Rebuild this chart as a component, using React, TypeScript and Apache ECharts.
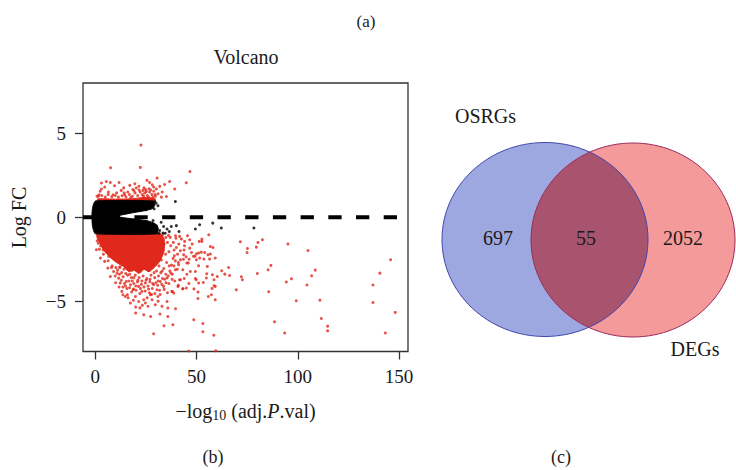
import React, { useEffect, useRef } from "react";
import * as echarts from "echarts";

// ---------- data ----------
const xTicks = [0, 50, 100, 150];
const yTicks = [-5, 0, 5];
const vennSets = ["OSRGs", "DEGs"];
const vennCounts = [697, 55, 2052]; // OSRGs only, both, DEGs only

// outlines of the saturated point clouds (data coordinates)
const blackCore: [number, number][] = [
  [-1.7, 0.05], [-1.5, 0.45], [-1.0, 0.75], [0, 0.97], [28.5, 0.97], [29.5, 0.75],
  [28, 0.5], [23, 0.36], [18, 0.26], [13.5, 0.15], [10.7, 0.07], [12.5, 0.0],
  [16, -0.06], [21, -0.13], [26, -0.22], [29.5, -0.38], [31, -0.62], [30.5, -0.99],
  [0, -0.99], [-1.0, -0.75], [-1.5, -0.45],
];
const redUpperCore: [number, number][] = [
  [1, 0.96], [29.5, 0.96], [29.5, 1.12], [24, 1.18], [18, 1.1], [10, 1.08], [4, 1.1], [1.2, 1.1],
];
const redLowerCore: [number, number][] = [
  [0.8, -0.98], [32, -0.98], [34, -1.3], [34, -2.0], [32, -2.6], [29, -3.0], [26.5, -3.25],
  [24, -3.1], [21.5, -3.35], [19, -3.15], [16.5, -3.25], [14, -2.95], [10.5, -2.7],
  [7, -2.35], [4, -1.95], [2, -1.5], [0.8, -1.2],
];

// individual significant genes (red)
const redPoints: [number, number][] = [
  // up-regulated, sparse
  [22.5, 4.3], [7.5, 2.95], [22.2, 2.97], [46.7, 2.72], [44.9, 2.06], [30.5, 2.34],
  [36.7, 2.13], [39.2, 1.68], [35.1, 1.24], [32.6, 1.2], [31.8, 1.84], [34.2, 1.95],
  [26.8, 2.07], [28.1, 1.94], [3, 2.04], [5.4, 2.13], [7.4, 2.07], [11.7, 2.07],
  [3, 1.68], [4.6, 1.8], [9.5, 1.88], [12.8, 1.6], [20.2, 1.74], [23.5, 1.6],
  [25.2, 1.54], [28.8, 1.8], [30.1, 1.68], [1.8, 1.34], [8.7, 1.34], [14.5, 1.34],
  [2.4, 1.55], [6.5, 1.5], [10.5, 1.45], [16, 1.5], [18.5, 1.65], [21.5, 1.85],
  [24, 1.75], [26.5, 1.7], [29.5, 1.35], [31, 1.4], [33, 1.5], [17, 1.9],
  [19.5, 2.0], [25.5, 2.2], [14, 1.75], [0.8, 1.25],
  // up-regulated band just above the core
  [1.5, 1.25], [3.2, 1.3], [4.9, 1.2], [6.3, 1.35], [8.1, 1.22], [9.8, 1.3],
  [11.4, 1.2], [13.2, 1.28], [15.1, 1.22], [16.8, 1.35], [18.3, 1.25], [19.6, 1.45],
  [20.9, 1.3], [22.1, 1.5], [23.2, 1.35], [24.4, 1.45], [25.6, 1.3], [26.8, 1.5],
  [27.9, 1.35], [28.8, 1.55], [29.7, 1.25], [21.6, 1.62], [24.8, 1.65], [27.3, 1.62],
  [19.1, 1.58], [23.8, 1.25], [26.3, 1.2], [28.4, 1.2], [17.5, 1.18], [14.2, 1.45],
  // down-regulated, dense band around the core
  [31.5, -1.1], [33.2, -1.05], [34.8, -1.2], [36.1, -1.08], [32.4, -1.45], [34, -1.6],
  [35.6, -1.5], [37.2, -1.7], [33.1, -1.95], [31.2, -2.1], [34.7, -2.2], [36.3, -2.05],
  [38.4, -2.45], [30.1, -2.4], [32.6, -2.55], [35.2, -2.7], [37.6, -2.85], [29.3, -2.7],
  [31.4, -2.9], [33.8, -3.05], [27.2, -2.65], [25.1, -2.8], [23.3, -2.75], [21.2, -2.85],
  [19.4, -2.7], [17.1, -2.8], [15.2, -2.7], [13.3, -2.6], [11.2, -2.65], [9.4, -2.45],
  [7.6, -2.35], [5.5, -2.0], [3.8, -1.95], [2.6, -1.7], [1.4, -1.55], [0.9, -1.4],
  [8.3, -2.9], [10.1, -3.0], [12.2, -2.95], [14.1, -3.1], [16.3, -3.0], [18.2, -3.15],
  [20.3, -3.05], [22.4, -3.2], [24.2, -3.05], [26.1, -3.15], [28.2, -3.0], [30.2, -3.2],
  [32.3, -3.3], [34.8, -3.4], [9.8, -3.5], [11.9, -3.4], [13.7, -3.55], [15.9, -3.45],
  [17.8, -3.6], [19.7, -3.45], [21.6, -3.6], [23.6, -3.5], [25.4, -3.65], [27.5, -3.45],
  [29.3, -3.6], [31.2, -3.5], [33.1, -3.65], [14.4, -3.95], [16.6, -3.8], [19, -3.95],
  [20.8, -3.85], [22.7, -4.0], [26.9, -3.85], [28.3, -3.95], [30.8, -4.05], [34.9, -3.9],
  [15.6, -4.25], [17.9, -4.45], [20.1, -4.35], [22.3, -4.25], [24.6, -4.4], [26.7, -4.5],
  [28.1, -4.25], [29.4, -4.55], [31.7, -4.35], [35.6, -4.5],
  [11, -3.15], [13, -3.3], [15, -3.35], [17, -3.4], [19, -3.6], [21, -3.75],
  [23, -3.8], [25, -3.75], [27, -3.7], [29, -3.3], [31, -3.8], [33, -3.2],
  [12.8, -3.75], [14.9, -4.1], [16.9, -4.2], [18.2, -3.8], [20, -4.1], [22, -4.55],
  [24, -4.15], [26, -4.1], [27.8, -4.6], [29.9, -3.9], [32.8, -4.0], [34.2, -3.7],
  [36.3, -3.95], [37.9, -3.7], [39.2, -3.8], [16.2, -4.8], [18.8, -4.95], [25.6, -4.8],
  [31, -5.0], [23.2, -5.25], [12, -3.0], [36.8, -3.2], [38.8, -2.9], [39.5, -2.6],
  [40.6, -2.2], [38.9, -1.95], [41.2, -1.6], [39.8, -1.25], [43.8, -1.95], [44.8, -2.35],
  [46.3, -2.5], [45.2, -3.4], [43.9, -3.65], [46.2, -3.95],
  // down-regulated, near the core
  [0.5, -1.94], [2.5, -2.43], [4.6, -2.63], [6.6, -2.33], [6.2, -3.03], [6.3, -2.59],
  [7.4, -3.53], [9, -3.23], [10.7, -3.33], [11.5, -3.63], [12.3, -3.92], [13.6, -4.16],
  [15.3, -3.83], [17.3, -4.02], [18.9, -4.28], [21.4, -4.12], [23, -4.42], [24.7, -3.92],
  [26.3, -4.28], [28.8, -4.02], [30.4, -4.32], [32.1, -3.83], [33.7, -4.12], [35.4, -3.62],
  [37.3, -3.33], [39.5, -3.13], [41.1, -2.83], [42, -2.53], [43.6, -2.23], [45.2, -2.73],
  [46.9, -3.23], [48.5, -2.33], [51, -3.92], [19.8, -4.72], [21.4, -5.02], [17.3, -5.11],
  [24.7, -5.11], [28, -4.92], [29.6, -5.21], [32.9, -5.31], [14.8, -4.72], [13.1, -4.42],
  [11.7, -4.16], [13.6, -4.62], [15.8, -4.62], [18.6, -4.32], [23.9, -4.92], [27.2, -4.62],
  [30.9, -4.72], [38.7, -4.52], [43.3, -4.26], [37.8, -4.42], [42, -3.72], [37, -1.2],
  [38.5, -1.5], [40, -1.8], [42, -2.0], [39, -2.3], [43.5, -2.5], [41, -2.7],
  [36.5, -2.9], [44, -1.7], [47.5, -2.1], [38, -3.4], [40.5, -3.1], [42.5, -1.3],
  [45.5, -1.1], [47.8, -1.6], [36, -3.5], [34, -4.3], [32, -4.6], [26, -5.3],
  [22, -5.4], [10, -3.9], [8, -3.0], [4, -2.2], [2, -1.9],
  // down-regulated, sparse
  [28.8, -6.94], [19.9, -5.35], [19.9, -5.71], [23.9, -5.81], [27.3, -5.91], [31.9, -5.77],
  [33.9, -6.47], [35.8, -5.91], [35.8, -5.41], [38.3, -6.41], [39.6, -5.45], [35.4, -5.02],
  [38, -4.42], [41.6, -3.72], [43.2, -3.13], [40.8, -4.12], [44.9, -4.22], [45.9, -2.73],
  [49.2, -2.33], [46.6, -1.84], [44.1, -1.44], [46.6, -1.34], [41.6, -1.14], [39.6, -1.1],
  [41, -4.06], [43.1, -4.26], [46.1, -7.97], [59.5, -7.96], [48.6, -6.11], [53.1, -6.33],
  [53.1, -6.82], [58.5, -7.03], [48.7, -4.27], [50.7, -4.84], [50.7, -4.46], [49.8, -3.72],
  [49.4, -3.23], [49.4, -3.65], [51, -2.89], [49.9, -2.53], [49.9, -2.18], [51, -2.13],
  [52.3, -2.08], [54, -2.1], [55.6, -2.24], [56.8, -2.19], [51.5, -2.43], [53.6, -2.49],
  [56.4, -2.49], [59.2, -2.43], [55.3, -2.93], [55, -3.37], [57.8, -3.43], [60.2, -3.53],
  [54.8, -3.62], [53.3, -3.89], [58.6, -3.72], [58.6, -4.08], [57.6, -4.24], [59.2, -4.12],
  [55.8, -4.72], [57.3, -4.62], [59.2, -4.92], [56, -1.04], [52.6, -1.3], [52.6, -1.44],
  [51.3, -1.44], [56.8, -1.74], [58.1, -1.8], [62.4, -3.19], [65.8, -2.99], [63.9, -3.39],
  [66.3, -3.47], [71.6, -1.46], [75.1, -1.86], [74.9, -2.1], [80.3, -1.5], [79.5, -1.78],
  [82.5, -1.34], [86.7, -2.87], [85.3, -3.13], [80, -3.35], [72.1, -3.55], [72.6, -3.72],
  [69.6, -4.32], [85.6, -4.44], [88.5, -6.23], [93.5, -6.9], [95.1, -1.6], [96.8, -3.67],
  [94.3, -3.86], [99.2, -4.98], [105, -1.98], [108.6, -3.15], [106.8, -3.49], [104.5, -4.04],
  [110.9, -4.94], [111.6, -6.03], [114.7, -6.49], [114.7, -6.77], [145.8, -2.53], [140.5, -3.33],
  [137.1, -4.04], [137.1, -5.08], [148.1, -5.67], [143.2, -6.9],
];

// individual non-significant genes (black) outside the saturated core
const blackPoints: [number, number][] = [
  [39.5, 0.94], [29.3, 0.94], [30.9, 0.69], [27.7, 0.65], [26, -0.35], [30.1, -0.51],
  [33.7, -0.55], [35.4, -0.7], [40, -0.5], [41.3, -0.85], [33.4, -0.94], [31.8, -0.79],
  [49.4, -0.7], [51.5, -0.45], [58, -0.35], [62.2, -0.64], [78.3, -0.64], [32.5, -0.3],
  [34.5, -0.95], [36.5, -0.85], [37.5, -0.55], [29, 0.5], [30, 0.85], [28.5, -0.2],
  [31.5, -0.95], [25, 0.45],
];

// ---------- style / layout ----------
const FONT = "Liberation Serif, serif";
const TXT = "#1a1a1a";
const RED = "#e0281c";
const X_MIN = -6.1;
const X_MAX = 154.4;
const Y_MIN = -8;
const Y_MAX = 8;

const VENN_L = { cx: 545, cy: 239.5, rx: 103, ry: 97 };
const VENN_R = { cx: 633, cy: 240, rx: 102, ry: 97 };

function inside(e: typeof VENN_L, x: number, y: number) {
  const dx = (x - e.cx) / e.rx;
  const dy = (y - e.cy) / e.ry;
  return dx * dx + dy * dy <= 1;
}

function lensPoints(): number[][] {
  const pts: number[][] = [];
  const N = 720;
  for (let i = 0; i <= N; i++) {
    const t = -Math.PI + (2 * Math.PI * i) / N;
    const x = VENN_L.cx + VENN_L.rx * Math.cos(t);
    const y = VENN_L.cy + VENN_L.ry * Math.sin(t);
    if (inside(VENN_R, x, y)) pts.push([x, y]);
  }
  for (let i = 0; i <= N; i++) {
    const t = (2 * Math.PI * i) / N;
    const x = VENN_R.cx + VENN_R.rx * Math.cos(t);
    const y = VENN_R.cy + VENN_R.ry * Math.sin(t);
    if (inside(VENN_L, x, y)) pts.push([x, y]);
  }
  return pts;
}

function polySeries(points: [number, number][], color: string, z: number) {
  return {
    type: "custom",
    coordinateSystem: "cartesian2d",
    data: [points[0]],
    silent: true,
    clip: true,
    z,
    renderItem: (_params: any, api: any) => ({
      type: "polygon",
      shape: { points: points.map((p) => api.coord(p)), smooth: 0.15 },
      style: { fill: color, stroke: color, lineWidth: 1 },
    }),
  };
}

const textStyle = (size: number) => ({ fontSize: size, fontFamily: FONT, fill: TXT });

export default function App() {
  const ref = useRef<HTMLDivElement>(null);

  useEffect(() => {
    if (!ref.current) return;
    const chart = echarts.init(ref.current, undefined, { renderer: "svg" });
    const minus = (v: number) => (v < 0 ? "\u2212" + Math.abs(v) : String(v));

    const option: any = {
      animation: false,
      backgroundColor: "#ffffff",
      textStyle: { fontFamily: FONT },
      grid: {
        left: 83,
        top: 83,
        width: 325,
        height: 268.5,
        show: true,
        borderColor: "#333",
        borderWidth: 1.3,
        backgroundColor: "transparent",
      },
      xAxis: {
        type: "value",
        min: X_MIN,
        max: X_MAX,
        axisLine: { show: false, onZero: false },
        splitLine: { show: false },
        axisTick: { show: true, customValues: xTicks, length: 8, lineStyle: { color: "#333", width: 1.3 } },
        axisLabel: { customValues: xTicks, margin: 15, fontSize: 19, fontFamily: FONT, color: TXT },
      },
      yAxis: {
        type: "value",
        min: Y_MIN,
        max: Y_MAX,
        axisLine: { show: false, onZero: false },
        splitLine: { show: false },
        axisTick: { show: true, customValues: yTicks, length: 8, lineStyle: { color: "#333", width: 1.3 } },
        axisLabel: {
          customValues: yTicks,
          margin: 17,
          fontSize: 19,
          fontFamily: FONT,
          color: TXT,
          formatter: minus,
        },
      },
      series: [
        polySeries(redUpperCore, RED, 1),
        polySeries(redLowerCore, RED, 1),
        {
          type: "scatter",
          data: redPoints,
          symbol: "circle",
          symbolSize: 3,
          itemStyle: { color: RED },
          silent: true,
          z: 2,
        },
        polySeries(blackCore, "#000", 3),
        {
          type: "scatter",
          data: blackPoints,
          symbol: "circle",
          symbolSize: 3,
          itemStyle: { color: "#000" },
          silent: true,
          z: 4,
        },
        {
          type: "line",
          data: [[X_MIN, 0], [X_MAX, 0]],
          symbol: "none",
          silent: true,
          z: 5,
          lineStyle: { color: "#000", width: 4, type: [13.3, 14.4], dashOffset: 4 },
        },
      ],
      graphic: [
        { type: "text", x: 366, y: 21, style: { text: "(a)", align: "center", verticalAlign: "middle", ...textStyle(17) } },
        { type: "text", x: 246, y: 57, style: { text: "Volcano", align: "center", verticalAlign: "middle", ...textStyle(20) } },
        {
          type: "text",
          x: 19,
          y: 217.5,
          rotation: Math.PI / 2,
          style: { text: "Log FC", align: "center", verticalAlign: "middle", ...textStyle(20) },
        },
        {
          type: "text",
          x: 245.5,
          y: 411,
          style: {
            text: "{a|\u2212log}{s|10}{a| (adj.}{i|P}{a|.val)}",
            align: "center",
            verticalAlign: "middle",
            rich: {
              a: { fontSize: 20, fontFamily: FONT, fill: TXT, verticalAlign: "middle" },
              s: { fontSize: 14, fontFamily: FONT, fill: TXT, verticalAlign: "middle", padding: [9, 0, 0, 0] },
              i: { fontSize: 20, fontFamily: FONT, fill: TXT, fontStyle: "italic", verticalAlign: "middle" },
            },
          },
        },
        { type: "text", x: 213, y: 457, style: { text: "(b)", align: "center", verticalAlign: "middle", ...textStyle(18) } },
        { type: "text", x: 561, y: 457, style: { text: "(c)", align: "center", verticalAlign: "middle", ...textStyle(18) } },
        // Venn diagram
        { type: "ellipse", shape: { ...VENN_L }, style: { fill: "#9ea8e0" }, silent: true },
        { type: "ellipse", shape: { ...VENN_R }, style: { fill: "#f49a9a" }, silent: true },
        { type: "polygon", shape: { points: lensPoints() }, style: { fill: "#a9546f" }, silent: true },
        { type: "ellipse", shape: { ...VENN_L }, style: { fill: "none", stroke: "#4046ac", lineWidth: 1 }, silent: true },
        { type: "ellipse", shape: { ...VENN_R }, style: { fill: "none", stroke: "#9b2b5c", lineWidth: 1 }, silent: true },
        { type: "text", x: 485.5, y: 116, style: { text: vennSets[0], align: "center", verticalAlign: "middle", ...textStyle(20) } },
        { type: "text", x: 695, y: 349, style: { text: vennSets[1], align: "center", verticalAlign: "middle", ...textStyle(20) } },
        { type: "text", x: 498, y: 238, style: { text: String(vennCounts[0]), align: "center", verticalAlign: "middle", ...textStyle(20) } },
        { type: "text", x: 586, y: 238, style: { text: String(vennCounts[1]), align: "center", verticalAlign: "middle", ...textStyle(20) } },
        { type: "text", x: 683, y: 238, style: { text: String(vennCounts[2]), align: "center", verticalAlign: "middle", ...textStyle(20) } },
      ],
    };

    chart.setOption(option);
    return () => chart.dispose();
  }, []);

  return (
    <div
      ref={ref}
      style={{ position: "fixed", left: 0, top: 0, width: 736, height: 470, background: "#fff" }}
    />
  );
}
